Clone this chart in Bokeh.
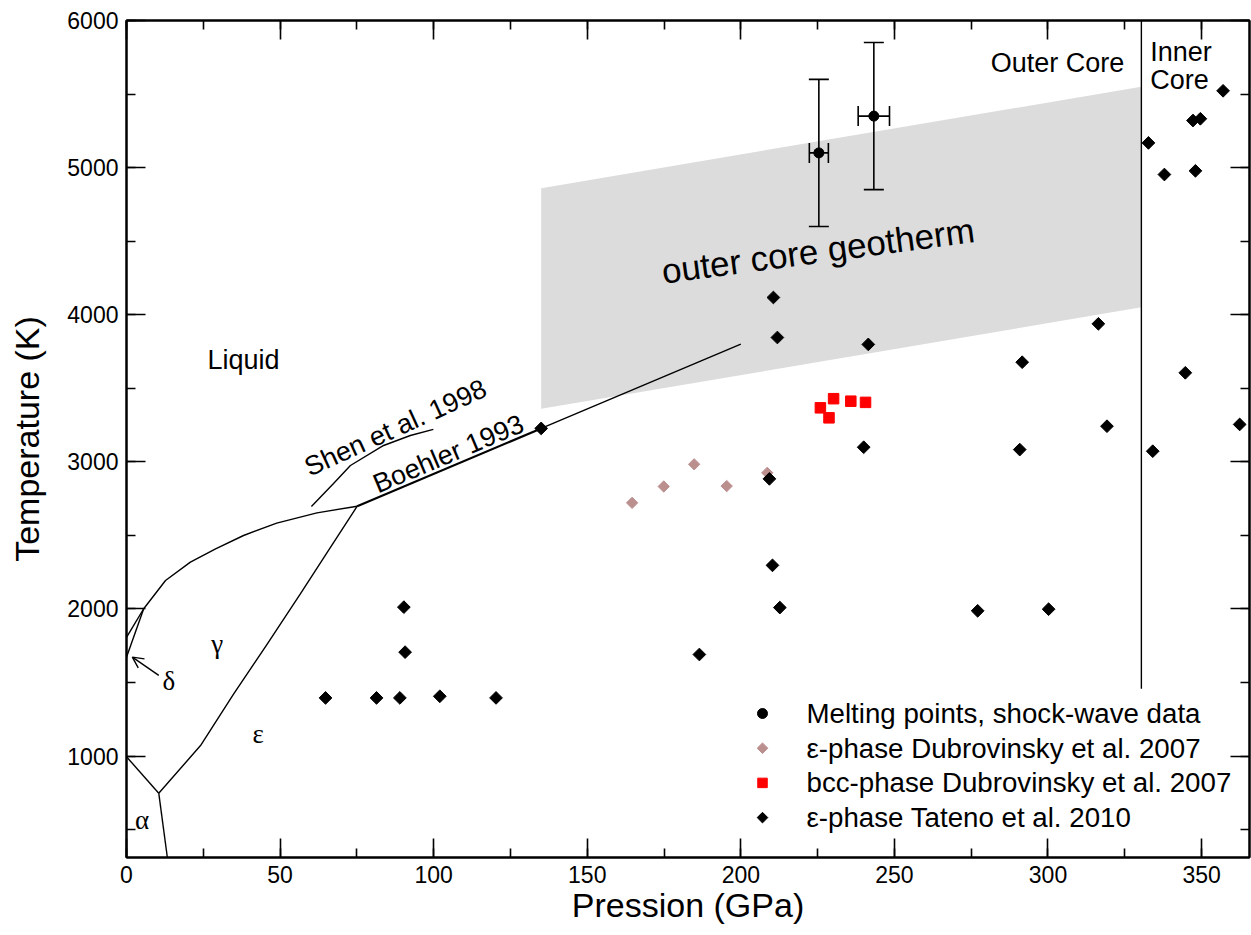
import math
from bokeh.plotting import figure
from bokeh.models import (Range1d, LinearAxis, SingleIntervalTicker, Whisker, TeeHead,
                          ColumnDataSource, Arrow, OpenHead, CustomLabelingPolicy)
from bokeh.core.properties import value
from bokeh.embed import file_html
from bokeh.resources import INLINE

# ---------------- data ----------------
# Melting points, shock-wave data (P GPa, T K, errors)
melt_p = [225.4, 243.3]
melt_t = [5100, 5350]
melt_perr = [3.1, 5.1]
melt_terr = [500, 500]

# epsilon-phase Dubrovinsky et al. 2007
dub_eps_p = [164.6, 174.9, 184.8, 195.4, 208.6]
dub_eps_t = [2721, 2832, 2983, 2835, 2925]

# bcc-phase Dubrovinsky et al. 2007
dub_bcc_p = [225.9, 228.7, 230.2, 235.8, 240.6]
dub_bcc_t = [3367, 3299, 3429, 3412, 3404]

# epsilon-phase Tateno et al. 2010
tat_p = [64.8, 81.4, 89.0, 102.0, 120.3, 90.3, 90.7, 135.0, 186.5, 209.3, 210.3, 212.7,
         210.6, 211.9, 240.0, 241.5, 277.1, 300.2, 290.8, 291.6, 319.2, 316.4,
         332.7, 337.9, 348.0, 347.2, 349.6, 357.0, 344.7, 334.1, 362.4]
tat_t = [1395, 1395, 1395, 1406, 1395, 2012, 1706, 3227, 1690, 2884, 2296, 2009,
         4117, 3845, 3099, 3798, 1987, 1998, 3083, 3677, 3242, 3938,
         5168, 4953, 4978, 5320, 5332, 5522, 3605, 3072, 3254]

series_labels = ["Melting points, shock-wave data",
                 "ε-phase Dubrovinsky et al. 2007",
                 "bcc-phase Dubrovinsky et al. 2007",
                 "ε-phase Tateno et al. 2010"]

# outer core geotherm band
band_p = [135.0, 330.4, 330.4, 135.0]
band_t = [4860, 5550, 4050, 3360]

# phase boundaries
melt_curve_p = [5.6, 12.7, 20.8, 29.0, 38.1, 48.9, 62.0, 75.1]
melt_curve_t = [2001, 2193, 2318, 2408, 2499, 2583, 2653, 2698]
boehler_p = [75.1, 135.0]
boehler_t = [2698, 3227]
boehler_ext_p = [135.0, 200.0]
boehler_ext_t = [3227, 3800]
shen_p = [60.2, 67.4, 72.9, 83.7, 92.4, 99.9]
shen_t = [2696, 2853, 2975, 3111, 3179, 3220]
gam_eps_p = [75.1, 66.4, 56.6, 45.8, 34.9, 24.1, 10.5]
gam_eps_t = [2698, 2418, 2102, 1761, 1422, 1071, 747]
alp_gam_p = [0.0, 10.5]
alp_gam_t = [995, 747]
alp_eps_p = [10.5, 13.3]
alp_eps_t = [747, 310]
delta_liq_p = [0.0, 5.6]
delta_liq_t = [1807, 2001]
delta_gam_p = [0.0, 5.6]
delta_gam_t = [1672, 2001]
inner_core_p = [330.4, 330.4]
inner_core_t = [1458, 6000]

x_ticks_interval = 50
y_ticks_interval = 1000
X_MIN, X_MAX = 0, 365.6
Y_MIN, Y_MAX = 310, 6000

FONT = "Liberation Sans"
SERIF = "Liberation Serif"

# layout
W, H = 1251, 935
BL, BT, BR = 126, 20, 2
FRAME_W = W - BL - BR
FRAME_H = 837
BB = H - BT - FRAME_H

p = figure(width=W, height=H, output_backend="svg", toolbar_location=None,
           x_range=Range1d(X_MIN, X_MAX), y_range=Range1d(Y_MIN, Y_MAX),
           min_border_left=BL, min_border_right=BR, min_border_top=BT, min_border_bottom=BB)
p.grid.visible = False
p.outline_line_color = "black"
p.outline_line_width = 2
p.background_fill_color = "white"
p.border_fill_color = "white"

no_labels = CustomLabelingPolicy(code="return []")

def style_axis(ax, show_labels):
    ax.axis_line_color = "black"
    ax.axis_line_width = 2
    ax.major_tick_in = 19
    ax.major_tick_out = 0
    ax.minor_tick_in = 9
    ax.minor_tick_out = 0
    ax.major_tick_line_width = 1.6
    ax.minor_tick_line_width = 1.6
    ax.major_tick_line_color = "black"
    ax.minor_tick_line_color = "black"
    if show_labels:
        ax.major_label_text_font = FONT
        ax.major_label_text_font_size = "23px"
        ax.major_label_text_color = "black"
        ax.major_label_standoff = 8
        ax.axis_label_text_font = FONT
        ax.axis_label_text_font_size = "34px"
        ax.axis_label_text_font_style = "normal"
        ax.axis_label_text_color = "black"
    else:
        ax.major_label_text_font_size = "0px"
        ax.major_label_standoff = 0
        ax.major_label_policy = no_labels
        ax.axis_label = None

p.xaxis[0].ticker = SingleIntervalTicker(interval=x_ticks_interval, num_minor_ticks=2)
p.yaxis[0].ticker = SingleIntervalTicker(interval=y_ticks_interval, num_minor_ticks=2)
p.xaxis[0].axis_label = "Pression (GPa)"
p.yaxis[0].axis_label = "Temperature (K)"
style_axis(p.xaxis[0], True)
style_axis(p.yaxis[0], True)
p.xaxis[0].axis_label_standoff = 0
p.yaxis[0].axis_label_standoff = 18

top_ax = LinearAxis(ticker=SingleIntervalTicker(interval=x_ticks_interval, num_minor_ticks=2))
style_axis(top_ax, False)
p.add_layout(top_ax, "above")
right_ax = LinearAxis(ticker=SingleIntervalTicker(interval=y_ticks_interval, num_minor_ticks=2))
style_axis(right_ax, False)
p.add_layout(right_ax, "right")

# band
p.patch(band_p, band_t, fill_color="#dcdcdc", line_color=None)

# lines
lw = 1.4
for xs, ys in [(melt_curve_p, melt_curve_t), (shen_p, shen_t), (gam_eps_p, gam_eps_t),
               (alp_gam_p, alp_gam_t), (alp_eps_p, alp_eps_t), (delta_liq_p, delta_liq_t),
               (delta_gam_p, delta_gam_t), (boehler_ext_p, boehler_ext_t),
               (inner_core_p, inner_core_t)]:
    p.line(xs, ys, line_color="black", line_width=lw)
p.line(boehler_p, boehler_t, line_color="black", line_width=2.2)

# arrow to delta field
p.add_layout(Arrow(end=OpenHead(size=11, line_width=1.4, line_color="black"),
                   x_start=10.5, y_start=1548, x_end=1.9, y_end=1672,
                   line_width=1.4, line_color="black", level="annotation"))

# error bars
src_m = ColumnDataSource(dict(x=melt_p, y=melt_t,
                              tu=[t + e for t, e in zip(melt_t, melt_terr)],
                              tl=[t - e for t, e in zip(melt_t, melt_terr)],
                              pu=[q + e for q, e in zip(melt_p, melt_perr)],
                              pl=[q - e for q, e in zip(melt_p, melt_perr)]))
for base, up, lo, dim in [("x", "tu", "tl", "height"), ("y", "pu", "pl", "width")]:
    p.add_layout(Whisker(base=base, upper=up, lower=lo, source=src_m, dimension=dim,
                         line_width=1.6, line_color="black", level="annotation",
                         upper_head=TeeHead(size=20, line_width=1.6, line_color="black"),
                         lower_head=TeeHead(size=20, line_width=1.6, line_color="black")))

# marker styles
STY = [dict(marker="circle", size=10, angle=0.0, color="black"),
       dict(marker="square", size=8, angle=math.pi / 4, color="#bc8f8f"),
       dict(marker="square", size=10.5, angle=0.0, color="#ff0000"),
       dict(marker="square", size=9, angle=math.pi / 4, color="black")]

def draw(xs, ys, st, size=None):
    return p.scatter(xs, ys, marker=st["marker"], size=size or st["size"], angle=st["angle"],
                     fill_color=st["color"], line_color=st["color"])

draw(melt_p, melt_t, STY[0])
draw(dub_eps_p, dub_eps_t, STY[1])
draw(dub_bcc_p, dub_bcc_t, STY[2])
draw(tat_p, tat_t, STY[3])

# text annotations
def txt(x, y, s, size="27px", font=FONT, angle_deg=0.0, align="center", baseline="alphabetic"):
    p.text(x=[x], y=[y], text=[s], text_font=value(font), text_font_size=value(size),
           text_color="black", text_align=align, text_baseline=baseline,
           angle=math.radians(angle_deg))

txt(38.1, 3695, "Liquid")
txt(29.5, 1762, "γ", font=SERIF, baseline="middle")
txt(13.8, 1513, "δ", font=SERIF, baseline="middle")
txt(42.9, 1152, "ε", font=SERIF, baseline="middle")
txt(5.1, 562, "α", font=SERIF, baseline="middle")
txt(87.6, 3231, "Shen et al. 1998", angle_deg=24.5)
txt(104.8, 3054, "Boehler 1993", angle_deg=23)
txt(225.1, 4437, "outer core geotherm", size="35px", angle_deg=7.6)
txt(303.1, 5714, "Outer Core")
txt(333.3, 5785, "Inner", align="left")
txt(333.3, 5598, "Core", align="left")

# manual legend (layout given in frame pixels, converted to data units)
def fx(px):
    return X_MIN + (px - BL) * (X_MAX - X_MIN) / FRAME_W

def fy(py):
    return Y_MAX - (py - BT) * (Y_MAX - Y_MIN) / FRAME_H

LEG_MARK_X, LEG_TEXT_X, LEG_TOP_Y, LEG_DY = 762, 806, 713, 34.7
LEG_SIZES = [10, 7.5, 9.5, 7.5]
for i, (lab, st) in enumerate(zip(series_labels, STY)):
    yy = fy(LEG_TOP_Y + i * LEG_DY)
    draw([fx(LEG_MARK_X)], [yy], st, size=LEG_SIZES[i])
    txt(fx(LEG_TEXT_X), yy, lab, size="27.7px", align="left", baseline="middle")

open("out.html", "w").write(file_html(p, INLINE))
